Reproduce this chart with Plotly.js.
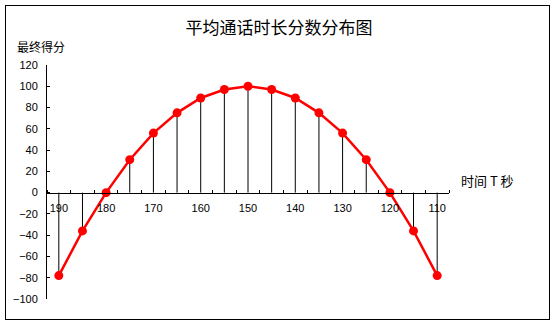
<!DOCTYPE html>
<html>
<head>
<meta charset="utf-8">
<script src="https://cdn.plot.ly/plotly-3.0.1.min.js"></script>
<style>
html,body{margin:0;padding:0;background:#fff;}
#wrap{position:relative;width:554px;height:323px;}
#chart{width:554px;height:323px;}
#border{position:absolute;left:5px;top:5px;width:543px;height:313px;border:1px solid #000;pointer-events:none;}
</style>
</head>
<body>
<div id="wrap"><div id="chart"></div><div id="border"></div></div>
<script>
const times = [190,185,180,175,170,165,160,155,150,145,140,135,130,125,120,115,110];
const scores = [-78,-36,0,31,56,75,89,97,100,97,89,75,56,31,0,-36,-78];
const xTickVals = [190,180,170,160,150,140,130,120,110];
const xTickText = ['190','180','170','160','150','140','130','120','110'];
const titleText = '平均通话时长分数分布图';
const yLabel = '最终得分';
const xLabel = '时间 T 秒';

const yMin = -100, yMax = 120;

// drop lines from each point to zero
const dropX = [], dropY = [];
times.forEach((t,i)=>{ dropX.push(t,t,null); dropY.push(0,scores[i],null); });

const cjk = '"SimSun","Noto Sans CJK SC", sans-serif';
const num = 'Arial, "Liberation Sans", sans-serif';

const traces = [
  {x: dropX, y: dropY, mode:'lines', line:{color:'#000', width:1}, hoverinfo:'skip', showlegend:false, xaxis:'x', yaxis:'y'},
  {x: times, y: scores, mode:'lines+markers', line:{color:'#ff0000', width:2.5},
   marker:{color:'#ff0000', size:9}, showlegend:false, xaxis:'x', yaxis:'y'}
];

const layout = {
  width:554, height:323,
  margin:{l:47, r:105, t:65, b:24},
  paper_bgcolor:'#fff', plot_bgcolor:'#fff',
  showlegend:false,
  title:{text:titleText, font:{family:cjk, size:17, color:'#000'},
         x:279/554, xref:'container', xanchor:'center', y:1-28/323, yref:'container', yanchor:'middle'},
  xaxis:{range:[192.5,107.5], showgrid:false, zeroline:false, showline:true, linecolor:'#000', linewidth:1,
         anchor:'free', position:(0-yMin)/(yMax-yMin),
         tickvals:xTickVals, ticktext:xTickText, ticks:'', ticklen:0,
         tickfont:{family:num, size:11, color:'#000'},
         ticklabelstandoff:5,
         minor:{tick0:2.5, dtick:5, ticks:'inside', ticklen:3, tickcolor:'#000', showgrid:false}},
  yaxis:{range:[yMin,yMax], showgrid:false, zeroline:false, showline:true, linecolor:'#000', linewidth:1,
         dtick:20, ticks:'inside', ticklen:3, tickcolor:'#000',
         tickfont:{family:num, size:11, color:'#000'}, ticklabelstandoff:6},
  annotations:[
    {text:yLabel, xref:'paper', yref:'paper', x:(15-47)/402, y:(299-46)/234, xanchor:'left', yanchor:'middle',
     showarrow:false, font:{family:cjk, size:12, color:'#000'}},
    {text:xLabel, xref:'paper', yref:'paper', x:(459-47)/402, y:(299-180)/234, xanchor:'left', yanchor:'middle',
     showarrow:false, font:{family:cjk, size:13, color:'#000'}}
  ]
};

Plotly.newPlot('chart', traces, layout, {displayModeBar:false, staticPlot:true});
</script>
</body>
</html>
